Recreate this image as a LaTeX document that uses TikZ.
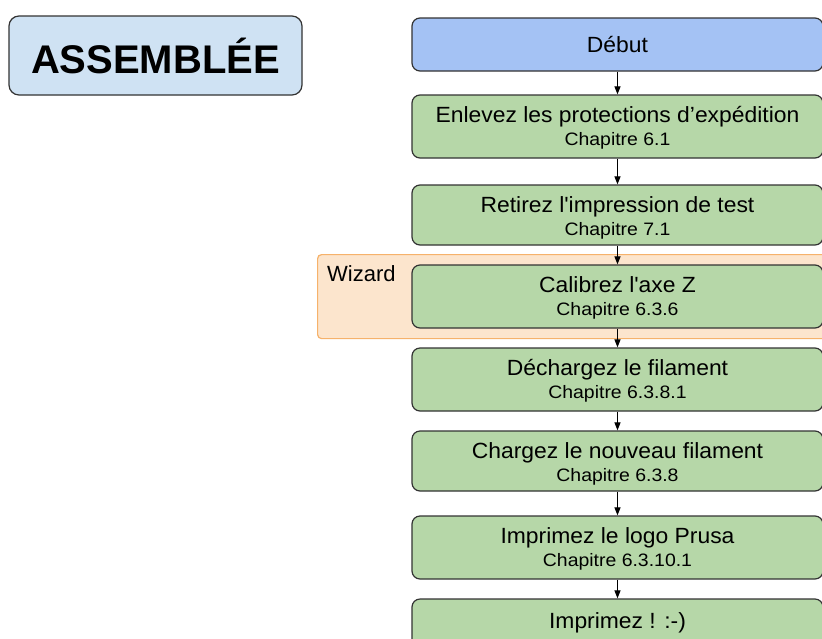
\documentclass[tikz,border=0pt]{standalone}
\usepackage{fontspec}
\setmainfont{Liberation Sans}
\newfontfamily\mainf[FakeStretch=1.04]{Liberation Sans}
\newfontfamily\chapf[FakeStretch=1.08]{Liberation Sans}
\usetikzlibrary{arrows.meta}
\definecolor{blueA}{HTML}{A4C2F4}
\definecolor{blueL}{HTML}{CFE2F3}
\definecolor{greenB}{HTML}{B6D7A8}
\definecolor{orangeF}{HTML}{FCE5CD}
\definecolor{orangeS}{HTML}{F6B26B}
\definecolor{strokeD}{HTML}{333333}
\begin{document}
\begin{tikzpicture}[x=1pt,y=-1pt,
  stepbox/.style={draw=strokeD, line width=1.2pt, rounded corners=8pt, fill=greenB,
    minimum width=411pt, inner sep=0pt, text height=10pt,
    font=\mainf\fontsize{22}{26}\selectfont},
  chapline/.style={inner sep=0pt, anchor=base, font=\chapf\fontsize{18}{22}\selectfont},
  titlebox/.style={draw=strokeD, line width=1.2pt, rounded corners=10pt, fill=blueL,
    minimum width=293pt, minimum height=79pt, inner sep=0pt,
    font=\fontsize{40}{44}\selectfont\bfseries},
  wizbox/.style={draw=orangeS, line width=1.2pt, rounded corners=4pt, fill=orangeF,
    minimum width=540pt, minimum height=84pt, inner sep=0pt},
  wizlabel/.style={inner sep=0pt, font=\fontsize{22}{26}\selectfont},
  arr/.style={draw=black, line width=1.1pt, -{Triangle[length=8pt,width=6pt]}}]
\useasboundingbox (0,0) rectangle (822,638);
\clip (0,0) rectangle (822,638);
\fill[white] (0,0) rectangle (822,638);

\node[titlebox] (title) at (155.5,55.5) {ASSEMBLÉE};

\node[wizbox, anchor=north west] (wiz) at (317,254) {};
\node[wizlabel, anchor=base west] (wizl) at (327,281) {Wizard};

\node[stepbox, fill=blueA, minimum height=53pt, text height=16pt, text depth=0pt] (debut) at (617.5,44.5) {Début};

\node[stepbox, minimum height=63pt, text depth=19pt] (enlevez) at (617.5,126.5) {Enlevez les protections d’expédition};
\node[chapline] (enlevezc) at ([yshift=-51pt]enlevez.north) {Chapitre 6.1};

\node[stepbox, minimum height=60pt, text depth=16pt] (retirez) at (617.5,215) {Retirez l\textquotesingle impression de test};
\node[chapline] (retirezc) at ([yshift=-51pt]retirez.north) {Chapitre 7.1};

\node[stepbox, minimum height=63pt, text depth=19pt] (calib) at (617.5,296.5) {Calibrez l\textquotesingle axe Z};
\node[chapline] (calibc) at ([yshift=-51pt]calib.north) {Chapitre 6.3.6};

\node[stepbox, minimum height=63pt, text depth=19pt] (decharge) at (617.5,379.5) {Déchargez le filament};
\node[chapline] (dechargec) at ([yshift=-51pt]decharge.north) {Chapitre 6.3.8.1};

\node[stepbox, minimum height=60pt, text depth=16pt] (charge) at (617.5,461) {Chargez le nouveau filament};
\node[chapline] (chargec) at ([yshift=-51pt]charge.north) {Chapitre 6.3.8};

\node[stepbox, minimum height=63pt, text depth=19pt] (logo) at (617.5,547.5) {Imprimez le logo Prusa};
\node[chapline] (logoc) at ([yshift=-51pt]logo.north) {Chapitre 6.3.10.1};

\node[stepbox, minimum height=63pt, text depth=15pt] (fin) at (617.5,630.5) {Imprimez ! :-)};

\draw[arr] (debut) -- (enlevez);
\draw[arr] (enlevez) -- (retirez);
\draw[arr] (retirez) -- (calib);
\draw[arr] (calib) -- (decharge);
\draw[arr] (decharge) -- (charge);
\draw[arr] (charge) -- (logo);
\draw[arr] (logo) -- (fin);
\end{tikzpicture}
\end{document}
